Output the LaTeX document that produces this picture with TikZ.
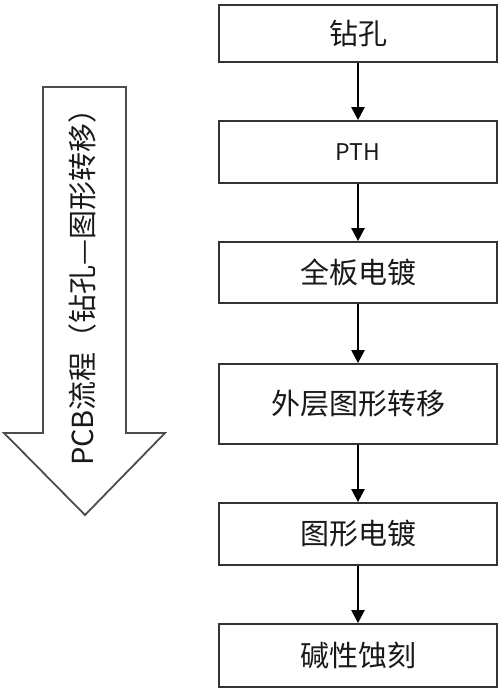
\documentclass[tikz,border=0pt]{standalone}
\usepackage{fontspec}
\usetikzlibrary{arrows.meta}
\newfontfamily\cjk{Noto Sans CJK SC}

\tikzset{
  stepbox/.style={draw=black!80,line width=1.8pt,fill=white,minimum width=278pt,
    minimum height=60pt,inner sep=0pt,font=\cjk\fontsize{29}{32}\selectfont,text=black!90},
  flow/.style={line width=2.4pt,-{Triangle[length=13pt,width=13pt]}},
}

\begin{document}
\begin{tikzpicture}[x=1pt,y=-1pt]
\useasboundingbox (0,0) rectangle (500,690);
% big arrow on the left
\draw[draw=black!70,line width=1.8pt,fill=white] (43,87) -- (126,87) -- (126,433) -- (165,433)
  -- (85,515) -- (4,433) -- (43,433) -- cycle;
\node[rotate=90,font=\cjk\fontsize{29}{32}\selectfont,text=black!90] (title) at (82,280) {PCB流程（钻孔—图形转移）};
% process steps
\node[stepbox,minimum height=57pt] (drill) at (358,33.5) {钻孔};
\node[stepbox,minimum height=62pt,font=\cjk\fontsize{23}{26}\selectfont] (pth) at (358,152) {PTH};
\node[stepbox,minimum height=61pt] (panel) at (358,272.5) {全板电镀};
\node[stepbox,minimum height=80pt] (outer) at (358,404) {外层图形转移};
\node[stepbox,minimum height=62pt] (pattern) at (358,534) {图形电镀};
\node[stepbox,minimum height=63pt] (etch) at (358,655.5) {碱性蚀刻};
\draw[flow] (drill) -- (pth);
\draw[flow] (pth) -- (panel);
\draw[flow] (panel) -- (outer);
\draw[flow] (outer) -- (pattern);
\draw[flow] (pattern) -- (etch);
\end{tikzpicture}
\end{document}
